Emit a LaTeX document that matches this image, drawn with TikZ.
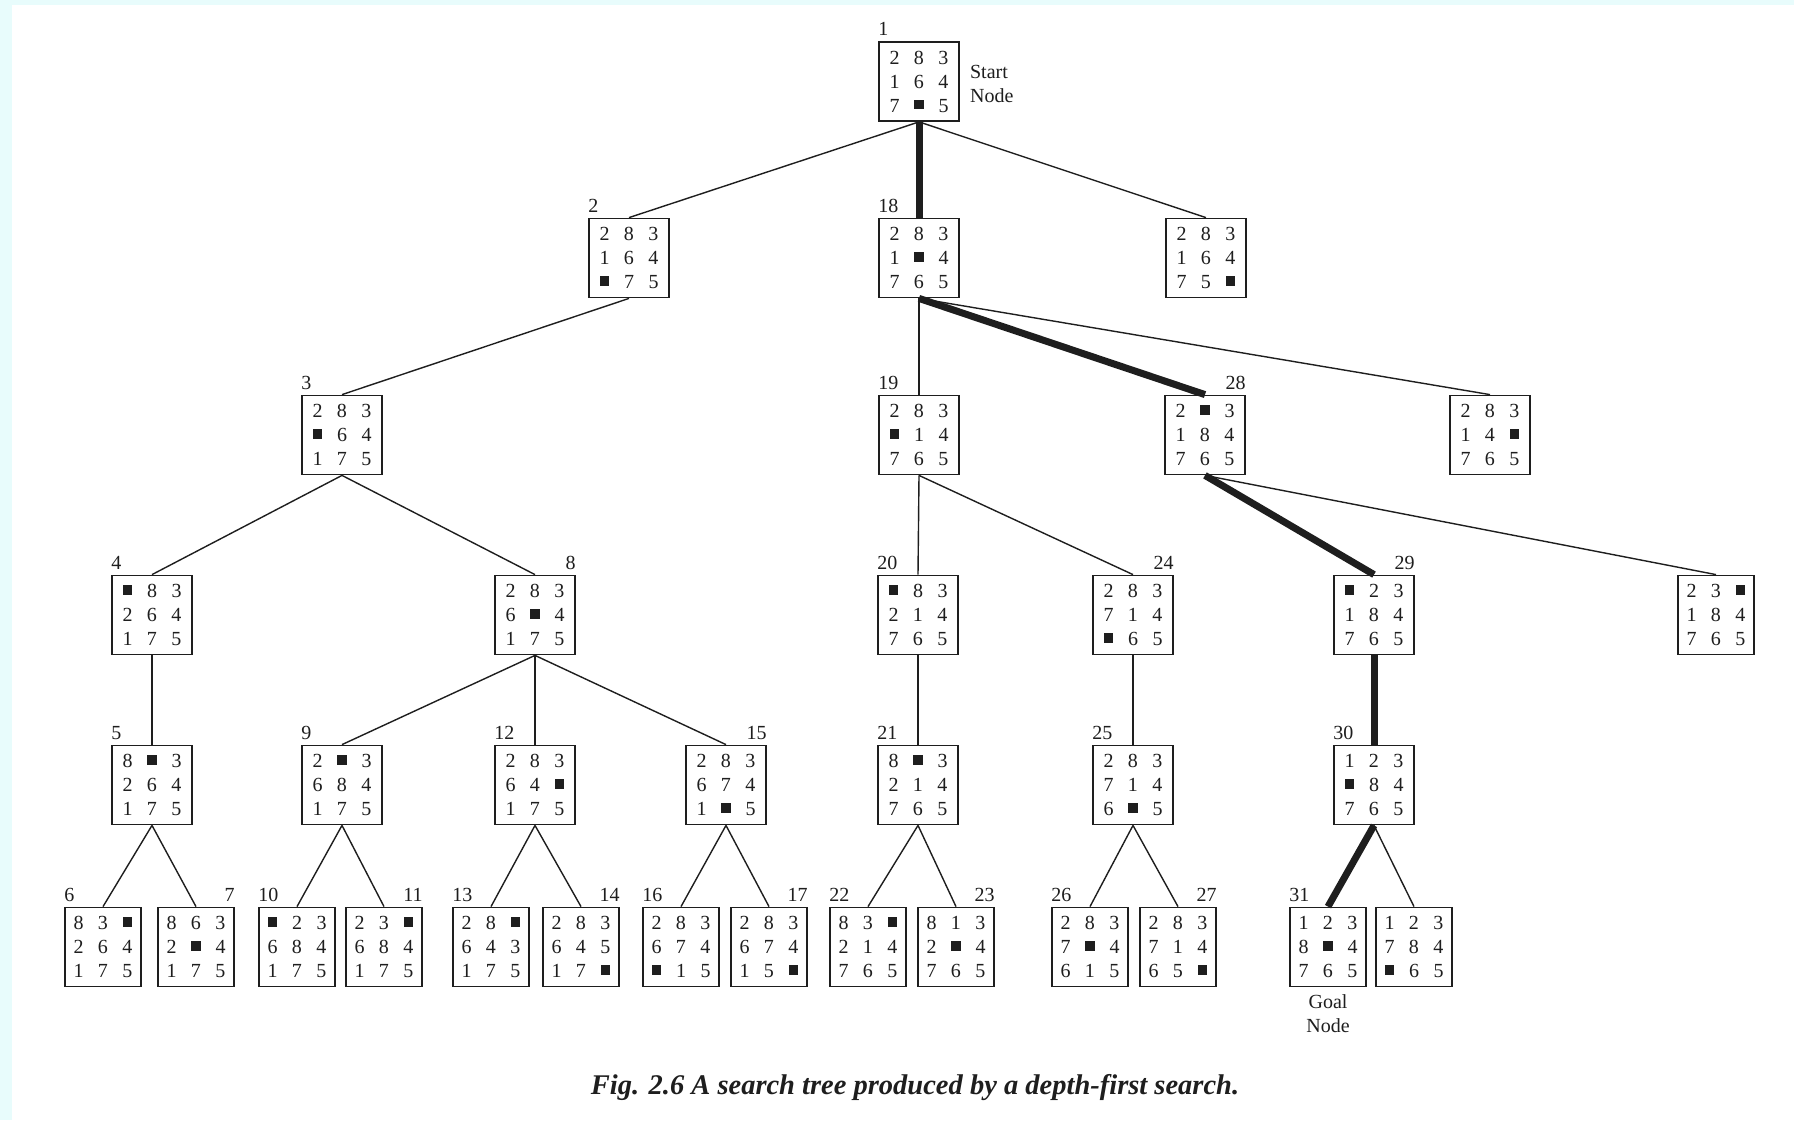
\documentclass[tikz,border=0pt]{standalone}
\usepackage{fontspec}
\setmainfont{Liberation Serif}
\definecolor{ink}{RGB}{30,30,30}
\definecolor{edgecyan}{RGB}{232,252,252}
% one cell of the 3x3 board, and the blank tile
\newcommand{\pzcell}[1]{\makebox[24.5pt]{#1}}
\newcommand{\bk}{\rule[3pt]{9.5pt}{9.5pt}}
% a full board, read row by row
\newcommand{\pz}[9]{\pzcell{#1}\pzcell{#2}\pzcell{#3}\\\pzcell{#4}\pzcell{#5}\pzcell{#6}\\\pzcell{#7}\pzcell{#8}\pzcell{#9}}
\begin{document}
\begin{tikzpicture}[x=1pt,y=-1pt,
  puzzle/.style={draw=ink, line width=1.8pt, fill=white, minimum width=80pt,
    minimum height=79pt, inner sep=0pt, align=center, text=ink,
    font=\fontsize{20}{24}\selectfont},
  leaf/.style={puzzle, minimum width=76pt},
  tag/.style={font=\fontsize{20}{24}\selectfont, inner sep=0pt, text=ink},
  ltag/.style={tag, anchor=south west},
  rtag/.style={tag, anchor=south east},
  branch/.style={draw=ink, line width=1.4pt},
  route/.style={draw=ink, line width=7pt},
]
\useasboundingbox (0,0) rectangle (1794,1120);
\fill[white] (0,0) rectangle (1794,1120);
\fill[edgecyan] (0,0) rectangle (12,1120);
\fill[edgecyan] (0,0) rectangle (1794,5);

% level 0
\node[puzzle] (n1) at (919,81.5) {\pz283164 7\bk5};
% level 1
\node[puzzle] (n2)  at (629,258)  {\pz283164\bk75};
\node[puzzle] (n18) at (919,258)  {\pz2831\bk4765};
\node[puzzle] (u1)  at (1206,258) {\pz28316475\bk};
% level 2
\node[puzzle] (n3)  at (342,435)  {\pz283\bk64175};
\node[puzzle] (n19) at (919,435)  {\pz283\bk14765};
\node[puzzle] (n28) at (1205,435) {\pz2\bk3184765};
\node[puzzle] (u18) at (1490,435) {\pz28314\bk765};
% level 3
\node[puzzle] (n4)  at (152,615)  {\pz\bk83264175};
\node[puzzle] (n8)  at (535,615)  {\pz2836\bk4175};
\node[puzzle] (n20) at (918,615)  {\pz\bk83214765};
\node[puzzle] (n24) at (1133,615) {\pz283714\bk65};
\node[puzzle] (n29) at (1374,615) {\pz\bk23184765};
\node[puzzle, minimum width=76pt] (u28) at (1716,615) {\pz23\bk184765};
% level 4
\node[puzzle] (n5)  at (152,785)  {\pz8\bk3264175};
\node[puzzle] (n9)  at (342,785)  {\pz2\bk3684175};
\node[puzzle] (n12) at (535,785)  {\pz28364\bk175};
\node[puzzle] (n15) at (726,785)  {\pz2836741\bk5};
\node[puzzle] (n21) at (918,785)  {\pz8\bk3214765};
\node[puzzle] (n25) at (1133,785) {\pz2837146\bk5};
\node[puzzle] (n30) at (1374,785) {\pz123\bk84765};
% level 5
\node[leaf] (n6)  at (103,947)  {\pz83\bk264175};
\node[leaf] (n7)  at (196,947)  {\pz8632\bk4175};
\node[leaf] (n10) at (297,947)  {\pz\bk23684175};
\node[leaf] (n11) at (384,947)  {\pz23\bk684175};
\node[leaf] (n13) at (491,947)  {\pz28\bk643175};
\node[leaf] (n14) at (581,947)  {\pz28364517\bk};
\node[leaf] (n16) at (681,947)  {\pz283674\bk15};
\node[leaf] (n17) at (769,947)  {\pz28367415\bk};
\node[leaf] (n22) at (868,947)  {\pz83\bk214765};
\node[leaf] (n23) at (956,947)  {\pz8132\bk4765};
\node[leaf] (n26) at (1090,947) {\pz2837\bk4615};
\node[leaf] (n27) at (1178,947) {\pz28371465\bk};
\node[leaf] (n31) at (1328,947) {\pz1238\bk4765};
\node[leaf] (u30) at (1414,947) {\pz123784\bk65};

% order numbers
\node[ltag] at ([yshift=5pt]n1.north west) {1};
\node[ltag] at ([yshift=5pt]n2.north west) {2};
\node[ltag] at ([yshift=5pt]n18.north west) {18};
\node[ltag] at ([yshift=5pt]n3.north west) {3};
\node[ltag] at ([yshift=5pt]n19.north west) {19};
\node[rtag] at ([yshift=5pt]n28.north east) {28};
\node[ltag] at ([yshift=5pt]n4.north west) {4};
\node[rtag] at ([yshift=5pt]n8.north east) {8};
\node[ltag] at ([yshift=5pt]n20.north west) {20};
\node[rtag] at ([yshift=5pt]n24.north east) {24};
\node[rtag] at ([yshift=5pt]n29.north east) {29};
\node[ltag] at ([yshift=5pt]n5.north west) {5};
\node[ltag] at ([yshift=5pt]n9.north west) {9};
\node[ltag] at ([yshift=5pt]n12.north west) {12};
\node[rtag] at ([yshift=5pt]n15.north east) {15};
\node[ltag] at ([yshift=5pt]n21.north west) {21};
\node[ltag] at ([yshift=5pt]n25.north west) {25};
\node[ltag] at ([yshift=5pt]n30.north west) {30};
\node[ltag] at ([yshift=5pt]n6.north west) {6};
\node[rtag] at ([yshift=5pt]n7.north east) {7};
\node[ltag] at ([yshift=5pt]n10.north west) {10};
\node[rtag] at ([yshift=5pt]n11.north east) {11};
\node[ltag] at ([yshift=5pt]n13.north west) {13};
\node[rtag] at ([yshift=5pt]n14.north east) {14};
\node[ltag] at ([yshift=5pt]n16.north west) {16};
\node[rtag] at ([yshift=5pt]n17.north east) {17};
\node[ltag] at ([yshift=5pt]n22.north west) {22};
\node[rtag] at ([yshift=5pt]n23.north east) {23};
\node[ltag] at ([yshift=5pt]n26.north west) {26};
\node[rtag] at ([yshift=5pt]n27.north east) {27};
\node[ltag] at ([yshift=5pt]n31.north west) {31};

% start and goal notes
\node[tag, anchor=west, align=left] (start) at ([xshift=10pt,yshift=-2pt]n1.east) {Start\\Node};
\node[tag, anchor=north, align=center] (goal) at ([yshift=-7pt]n31.south) {Goal\\Node};

% ordinary branches
\draw[branch] (n1.south) -- (n2.north);
\draw[branch] (n1.south) -- (u1.north);
\draw[branch] (n2.south) -- (n3.north);
\draw[branch] (n3.south) -- (n4.north);
\draw[branch] (n3.south) -- (n8.north);
\draw[branch] (n4.south) -- (n5.north);
\draw[branch] (n5.south) -- (n6.north);
\draw[branch] (n5.south) -- (n7.north);
\draw[branch] (n8.south) -- (n9.north);
\draw[branch] (n8.south) -- (n12.north);
\draw[branch] (n8.south) -- (n15.north);
\draw[branch] (n9.south) -- (n10.north);
\draw[branch] (n9.south) -- (n11.north);
\draw[branch] (n12.south) -- (n13.north);
\draw[branch] (n12.south) -- (n14.north);
\draw[branch] (n15.south) -- (n16.north);
\draw[branch] (n15.south) -- (n17.north);
\draw[branch] (n18.south) -- (n19.north);
\draw[branch] (n18.south) -- (u18.north);
\draw[branch] (n19.south) -- (n20.north);
\draw[branch] (n19.south) -- (n24.north);
\draw[branch] (n20.south) -- (n21.north);
\draw[branch] (n21.south) -- (n22.north);
\draw[branch] (n21.south) -- (n23.north);
\draw[branch] (n24.south) -- (n25.north);
\draw[branch] (n25.south) -- (n26.north);
\draw[branch] (n25.south) -- (n27.north);
\draw[branch] (n28.south) -- (u28.north);
\draw[branch] (n30.south) -- (u30.north);
% solution path
\draw[route] (n1.south) -- (n18.north);
\draw[route] (n18.south) -- (n28.north);
\draw[route] (n28.south) -- (n29.north);
\draw[route] (n29.south) -- (n30.north);
\draw[route] (n30.south) -- (n31.north);

% caption
\node[font=\fontsize{28.5}{32}\selectfont\bfseries\itshape, text=ink, anchor=base, inner sep=0pt] (cap) at (915,1094) {Fig. 2.6 A search tree produced by a depth-first search.};
\end{tikzpicture}
\end{document}
